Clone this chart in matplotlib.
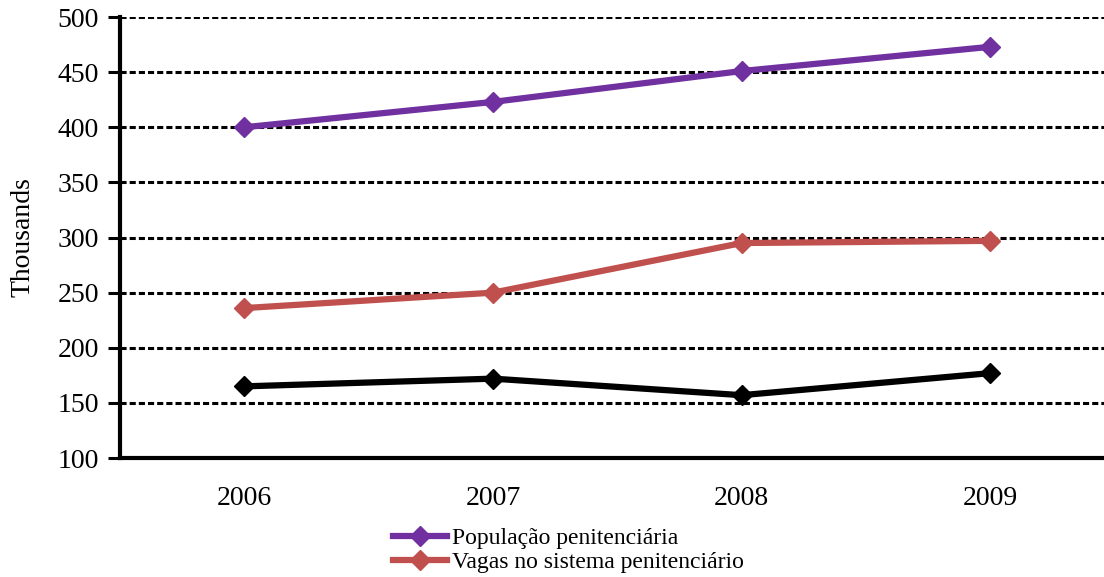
import matplotlib.pyplot as plt
from matplotlib.lines import Line2D

years = ['2006', '2007', '2008', '2009']
populacao = [400, 423, 451, 473]
vagas = [236, 250, 295, 297]
deficit = [165, 172, 157, 177]

plt.rcParams['font.family'] = ['Liberation Serif', 'DejaVu Serif']

fig = plt.figure(figsize=(11.04, 5.77), dpi=100)
ax = fig.add_axes([0.1087, 0.2062, 0.901, 0.7643])

x = range(len(years))
ax.plot(x, populacao, color='#7030A0', lw=4.5, marker='D', ms=10, zorder=3)
ax.plot(x, vagas, color='#C0504D', lw=4.5, marker='D', ms=10, zorder=3)
ax.plot(x, deficit, color='black', lw=4.5, marker='D', ms=10, zorder=3)

ax.set_xlim(-0.5, 3.5)
ax.set_ylim(100, 500)
ax.set_yticks(range(100, 501, 50))
ax.set_xticks(list(x))
ax.set_xticklabels(years)

ax.yaxis.grid(True, color='black', lw=2.2, linestyle=(0, (2, 1)))
ax.set_axisbelow(True)

for side in ['top', 'right']:
    ax.spines[side].set_visible(False)
ax.spines['left'].set_linewidth(3)
ax.spines['bottom'].set_linewidth(3)

ax.tick_params(axis='y', length=9, width=2.2, labelsize=20, pad=6)
ax.tick_params(axis='x', length=0, labelsize=20, pad=20)
ax.set_ylabel('Thousands', fontsize=20, labelpad=16)

handles = [
    Line2D([], [], color='#7030A0', lw=4.5, marker='D', ms=10),
    Line2D([], [], color='#C0504D', lw=4.5, marker='D', ms=10),
]
fig.legend(handles, ['População penitenciária', 'Vagas no sistema penitenciário'],
           loc='upper left', bbox_to_anchor=(0.356, 0.085), frameon=False,
           fontsize=17, handlelength=2.3, handletextpad=0.2, labelspacing=0.1,
           borderpad=0, borderaxespad=0)

fig.savefig('out.png', dpi=100)
